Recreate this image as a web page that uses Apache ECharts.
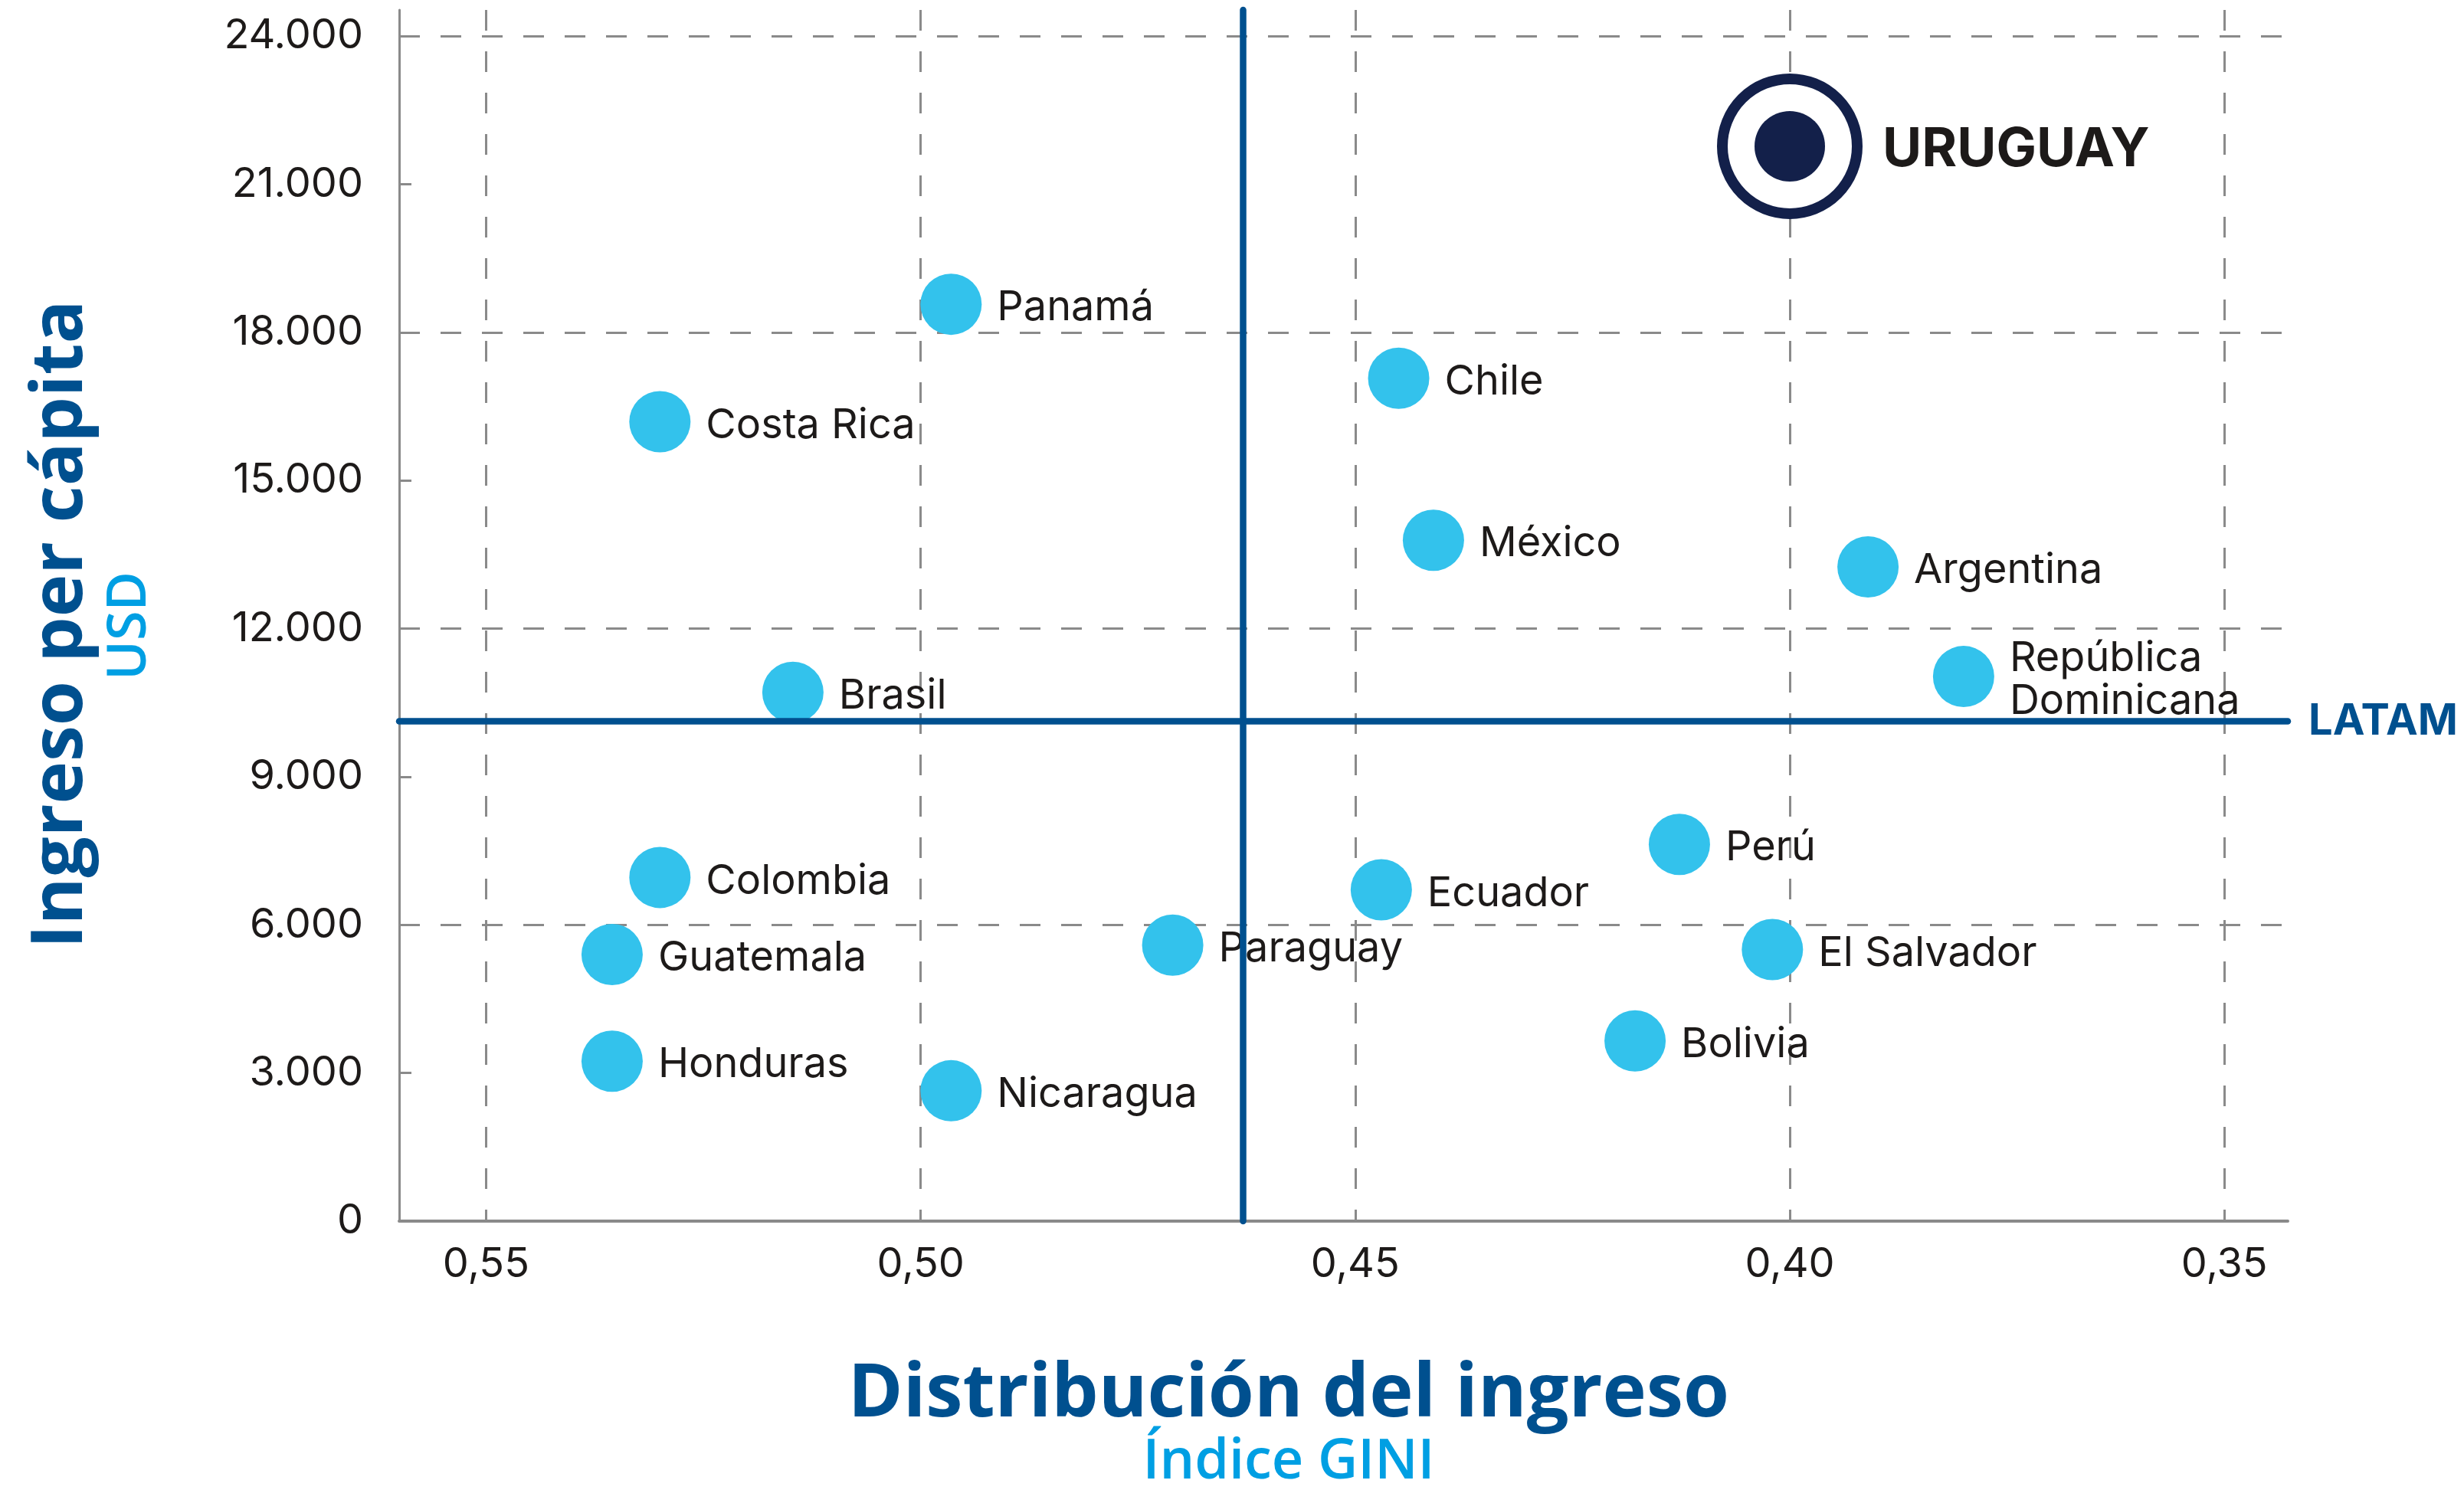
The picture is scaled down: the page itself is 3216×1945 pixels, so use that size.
<!DOCTYPE html>
<html>
<head>
<meta charset="utf-8">
<script src="https://cdn.jsdelivr.net/npm/echarts@6/dist/echarts.min.js"></script>
<style>
  html, body { margin: 0; background: #fff; }
  #chart { width: 3216px; height: 1945px; }
</style>
</head>
<body>
<div id="chart"></div>
<script>
const COUNTRIES = ["URUGUAY", "Panamá", "Costa Rica", "Chile", "México", "Argentina", "República\nDominicana",
  "Brasil", "Colombia", "Guatemala", "Honduras", "Nicaragua", "Paraguay", "Ecuador", "Perú", "El Salvador", "Bolivia"];
const GINI = [0.400, 0.4965, 0.530, 0.445, 0.441, 0.391, 0.380,
  0.5147, 0.530, 0.5355, 0.5355, 0.4965, 0.471, 0.447, 0.4127, 0.402, 0.4178];
const INCOME = [21770, 18570, 16190, 17070, 13790, 13250, 11030,
  10710, 6960, 5400, 3240, 2640, 5590, 6710, 7630, 5500, 3650];
const HIGHLIGHT = "URUGUAY";
const LATAM_GINI = 0.4629;
const LATAM_INCOME = 10120;
const X_TICKS = [0.55, 0.50, 0.45, 0.40, 0.35];
const Y_TICKS = [0, 3000, 6000, 9000, 12000, 15000, 18000, 21000, 24000];

const NAVY = "#13204a";
const BLUE = "#00508f";
const CYAN = "#009fe3";
const DOT = "#33c2ec";
const GREY = "#8a8a8a";
const INK = "#1d1a19";

const points = COUNTRIES.map((name, i) => ({ name, value: [GINI[i], INCOME[i]] }));
const others = points.filter((p) => p.name !== HIGHLIGHT);
const highlight = points.filter((p) => p.name === HIGHLIGHT);

const thousands = (v) => String(v).replace(/\B(?=(\d{3})+(?!\d))/g, ".");
const dashed = { color: GREY, width: 3, type: [27, 27] };

const chart = echarts.init(document.getElementById("chart"));
chart.setOption({
  animation: false,
  grid: { left: 521, right: 230, top: 13, bottom: 351 },
  xAxis: {
    type: "value",
    inverse: true,
    min: 0.3427,
    max: 0.56,
    axisLine: { lineStyle: { color: GREY, width: 4 } },
    axisTick: { show: false },
    axisLabel: {
      customValues: X_TICKS,
      margin: 30,
      color: INK,
      fontSize: 54,
      fontFamily: "Inter",
      formatter: (v) => v.toFixed(2).replace(".", ",")
    },
    splitLine: { show: true, showMinLine: false, showMaxLine: false, lineStyle: dashed }
  },
  yAxis: [
    {
      type: "value",
      min: 0,
      max: 24530,
      axisLine: { show: true, lineStyle: { color: GREY, width: 3 } },
      axisTick: { show: true, inside: true, length: 16, customValues: Y_TICKS, lineStyle: { color: GREY, width: 3 } },
      axisLabel: {
        customValues: Y_TICKS,
        margin: 47,
        color: INK,
        fontSize: 54,
        fontFamily: "Inter",
        formatter: thousands
      },
      splitLine: { show: false }
    },
    {
      type: "value",
      min: 0,
      max: 24530,
      interval: 6000,
      axisLine: { show: false },
      axisTick: { show: false },
      axisLabel: { show: false },
      splitLine: { show: true, showMinLine: false, showMaxLine: false, lineStyle: dashed }
    }
  ],
  series: [
    {
      type: "scatter",
      data: others,
      symbolSize: 80,
      itemStyle: { color: DOT, opacity: 1 },
      emphasis: { disabled: true },
      label: {
        show: true,
        position: "right",
        distance: 20,
        offset: [0, 5],
        formatter: "{b}",
        color: INK,
        fontSize: 54,
        lineHeight: 56,
        fontFamily: "Inter"
      },
      markLine: {
        silent: true,
        precision: 4,
        symbol: ["none", "none"],
        lineStyle: { color: BLUE, width: 8.5, type: "solid", cap: "round" },
        label: { show: false },
        emphasis: { disabled: true },
        data: [
          { xAxis: LATAM_GINI },
          {
            yAxis: LATAM_INCOME,
            label: {
              show: true,
              position: "start",
              distance: 27,
              formatter: "LATAM",
              color: BLUE,
              fontSize: 56,
              fontWeight: "bold",
              fontFamily: "Inter"
            }
          }
        ]
      }
    },
    {
      type: "scatter",
      data: highlight,
      symbolSize: 176,
      itemStyle: { color: "#fff", borderColor: NAVY, borderWidth: 14, opacity: 1 },
      emphasis: { disabled: true },
      label: {
        show: true,
        position: "right",
        distance: 26,
        offset: [0, 5],
        formatter: "{b}",
        color: INK,
        fontSize: 70,
        fontWeight: "bold",
        fontFamily: "Inter"
      },
      z: 3
    },
    {
      type: "scatter",
      data: highlight,
      symbolSize: 92,
      itemStyle: { color: NAVY, opacity: 1 },
      emphasis: { disabled: true },
      z: 4
    }
  ],
  graphic: [
    {
      type: "text", x: 80, y: 815, rotation: Math.PI / 2,
      style: { text: "Ingreso per cápita", fill: BLUE, font: 'bold 94px "Open Sans"', align: "center", verticalAlign: "middle" }
    },
    {
      type: "text", x: 170, y: 817, rotation: Math.PI / 2,
      style: { text: "USD", fill: CYAN, font: '600 70px "Open Sans"', align: "center", verticalAlign: "middle" }
    },
    {
      type: "text", x: 1682, y: 1821,
      style: { text: "Distribución del ingreso", fill: BLUE, font: 'bold 97px "Open Sans"', align: "center", verticalAlign: "middle" }
    },
    {
      type: "text", x: 1682, y: 1909,
      style: { text: "Índice GINI", fill: CYAN, font: '600 72px "Open Sans"', align: "center", verticalAlign: "middle" }
    }
  ]
});
</script>
</body>
</html>
